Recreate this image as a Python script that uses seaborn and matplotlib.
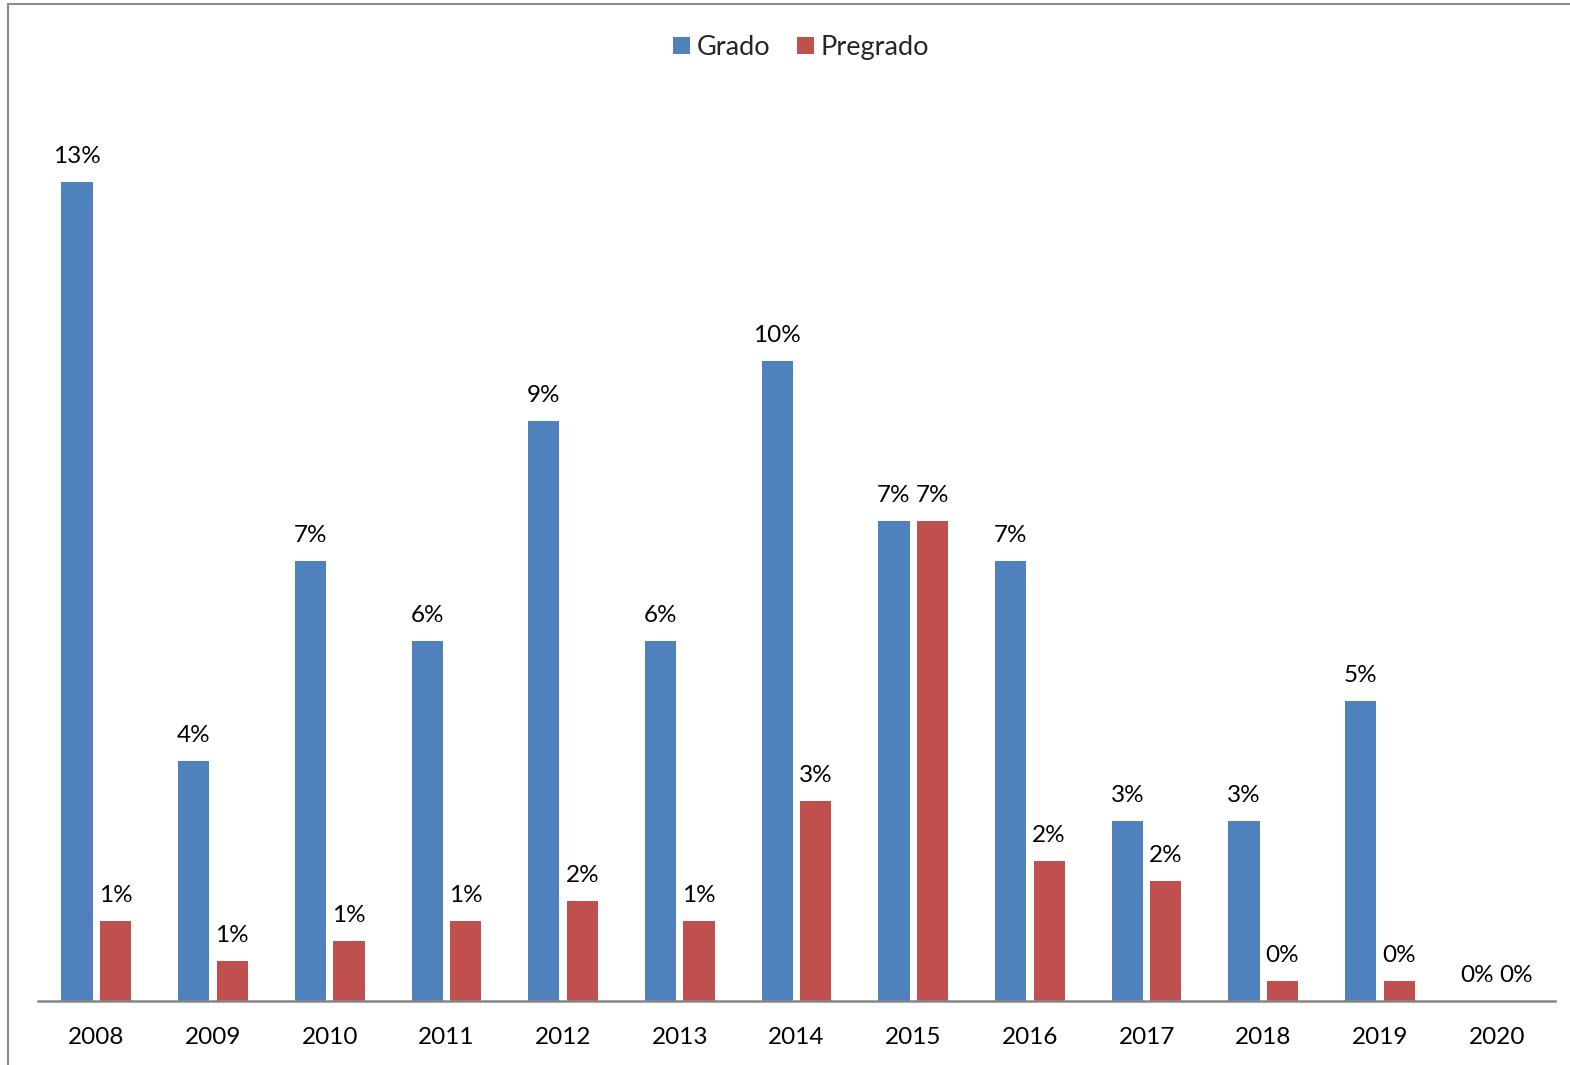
import matplotlib
matplotlib.use("Agg")
import matplotlib.pyplot as plt
import seaborn as sns
import pandas as pd
from matplotlib.lines import Line2D
from matplotlib.patches import Patch

years = ["2008", "2009", "2010", "2011", "2012", "2013", "2014",
         "2015", "2016", "2017", "2018", "2019", "2020"]
grado = [12.69, 3.72, 6.81, 5.57, 8.98, 5.57, 9.91, 7.43, 6.81, 2.79, 2.79, 4.64, 0.0]
pregrado = [1.24, 0.62, 0.93, 1.24, 1.55, 1.24, 3.10, 7.43, 2.17, 1.86, 0.31, 0.31, 0.0]
series = ["Grado", "Pregrado"]
colors = ["#4F81BD", "#C0504D"]

df = pd.DataFrame({
    "year": years * 2,
    "value": grado + pregrado,
    "serie": [series[0]] * len(years) + [series[1]] * len(years),
})

sns.set_theme(style="white")
plt.rcParams["font.family"] = ["Lato", "DejaVu Sans"]

W, H = 1570, 1065
fig = plt.figure(figsize=(W / 100, H / 100), dpi=100)
ax_left, ax_right, ax_bottom, ax_top = 38, 1555, 1001, 100
ax = fig.add_axes([ax_left / W, (H - ax_bottom) / H,
                   (ax_right - ax_left) / W, (ax_bottom - ax_top) / H])

sns.barplot(data=df, x="year", y="value", hue="serie", palette=colors,
            width=0.66, gap=0.19, ax=ax, legend=False, saturation=1,
            edgecolor="none", linewidth=0)

ax.set_xlim(-0.5, len(years) - 0.5)
ax.set_ylim(0, (ax_bottom - ax_top) / 64.55)

for cont, vals in zip(ax.containers, [grado, pregrado]):
    for p, v in zip(cont.patches, vals):
        ax.annotate(f"{v:.0f}%", (p.get_x() + p.get_width() / 2, p.get_height()),
                    xytext=(0, 13.7), textcoords="offset points",
                    ha="center", va="baseline", fontsize=17.5, color="black")

for s in ["top", "right", "left"]:
    ax.spines[s].set_visible(False)
ax.spines["bottom"].set_color("#868686")
ax.spines["bottom"].set_linewidth(1.8)
ax.set_yticks([])
ax.set_xlabel("")
ax.set_ylabel("")
ax.tick_params(axis="x", length=0, pad=19, labelsize=17.5, colors="black")

handles = [Patch(facecolor=c, edgecolor="none") for c in colors]
fig.legend(handles, series, loc="center", bbox_to_anchor=(801 / W, 1 - 47.5 / H),
           ncol=2, frameon=False, fontsize=19.5, handlelength=0.63, handleheight=0.63,
           handletextpad=0.25, columnspacing=1.0)

fig.add_artist(Line2D([8 / W, 8 / W], [0, 1 - 4 / H], transform=fig.transFigure,
                      color="#8C8C8C", linewidth=1.5))
fig.add_artist(Line2D([8 / W, 1], [1 - 4 / H, 1 - 4 / H], transform=fig.transFigure,
                      color="#8C8C8C", linewidth=1.5))

fig.savefig("out.png", dpi=100, facecolor="white")
